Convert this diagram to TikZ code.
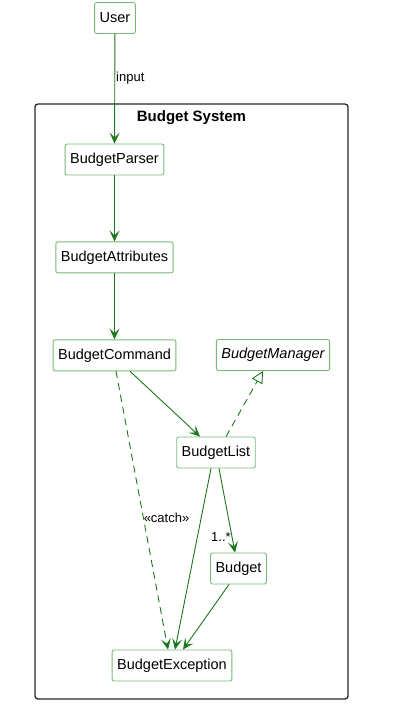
\documentclass[tikz,border=0pt]{standalone}
\usepackage{fontspec}
\setmainfont{Liberation Sans}
\usepackage{tikz}
\usetikzlibrary{arrows.meta,positioning}
\definecolor{linegreen}{RGB}{28,118,28}
\definecolor{boxgreen}{RGB}{120,184,120}
\begin{document}
\begin{tikzpicture}[
  x=1pt, y=-1pt,
  box/.style={draw=boxgreen, line width=0.9pt, rounded corners=2pt, fill=white, minimum height=31pt, inner xsep=5pt, font=\fontsize{14.5}{17}\selectfont},
  frame/.style={draw=black!85, line width=1.3pt, rounded corners=3pt, minimum width=313pt, minimum height=595pt},
  arr/.style={-{Stealth[length=11pt, width=10pt, inset=5pt]}, draw=linegreen, line width=0.9pt},
  dep/.style={arr, dash pattern=on 7pt off 5pt},
  impl/.style={-{Triangle[open, length=12pt, width=12pt]}, draw=linegreen, line width=0.9pt, dash pattern=on 7pt off 5pt},
  lbl/.style={font=\fontsize{13}{15}\selectfont, inner sep=1pt}
]
\useasboundingbox (0,0) rectangle (406,712);
\node[frame] (sys) at (191.5,401.5) {};
\node[font=\bfseries\fontsize{15}{18}\selectfont, below=4pt of sys.north] (systitle) {Budget System};
\node[box] (user) at (115,18) {User};
\node[box] (parser) at (114.5,159.5) {BudgetParser};
\node[box, below=66pt of parser] (attrs) {BudgetAttributes};
\node[box, below=66pt of attrs] (cmd) {BudgetCommand};
\node[box] (mgr) at (273,355) {\itshape BudgetManager};
\node[box] (list) at (216,452.5) {BudgetList};
\node[box] (budget) at (238.5,568.5) {Budget};
\node[box] (exc) at (172,665.5) {BudgetException};
\draw[arr] (user)--node[lbl, anchor=west, pos=0.4] (inputlbl) {input} (parser);
\draw[arr] (parser)--(attrs); \draw[arr] (attrs)--(cmd);
\draw[arr] ([xshift=15.5pt]cmd.south)--([xshift=-16pt]list.north);
\draw[impl] ([xshift=10pt]list.north)--([xshift=-10pt]mgr.south);
\draw[dep] ([xshift=1.5pt]cmd.south)--node[lbl, anchor=west, pos=0.525, xshift=-1pt] (catchlbl) {«catch»} ([xshift=-4pt]exc.north);
\draw[arr] ([xshift=-5pt]list.south)--([xshift=3pt]exc.north);
\draw[arr] ([xshift=3pt]list.south)--node[lbl, anchor=east, pos=0.82] (multlbl) {1..*} ([xshift=-3.5pt]budget.north);
\draw[arr] ([xshift=-9.5pt]budget.south)--([xshift=11pt]exc.north);
\end{tikzpicture}
\end{document}
